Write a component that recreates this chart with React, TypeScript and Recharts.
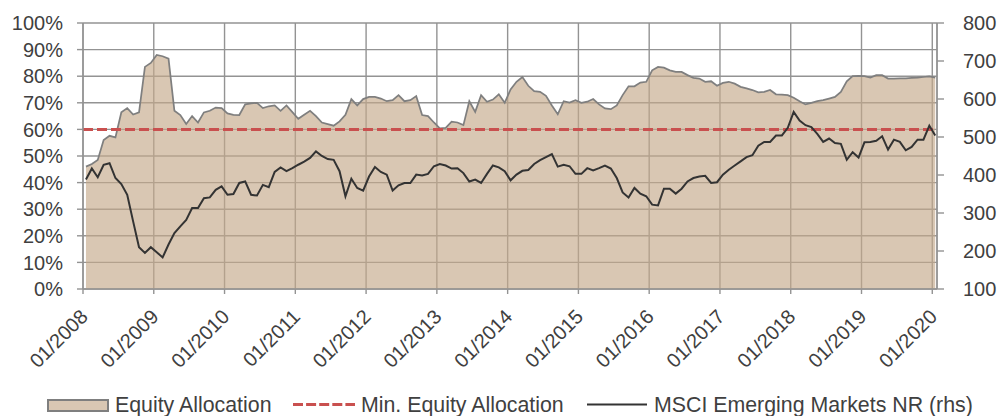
import React from 'react';
import {
  ComposedChart,
  Area,
  Line,
  XAxis,
  YAxis,
  CartesianGrid,
  ReferenceLine,
  Legend,
} from 'recharts';

// ---------- data ----------
const START_YEAR = 2008;
const MONTH_COUNT = 145; // 01/2008 .. 01/2020

const months: string[] = Array.from({ length: MONTH_COUNT }, (_, i) => {
  const y = START_YEAR + Math.floor(i / 12);
  const m = (i % 12) + 1;
  return `${m < 10 ? '0' : ''}${m}/${y}`;
});

const equityAllocation: number[] = [
  46, 47, 48.5, 56, 57.6, 57, 66.4, 68, 65.6, 66.4, 83.5, 85,
  88, 87.5, 86.6, 67, 65.4, 62, 65, 62.6, 66.4, 67, 68.2, 68,
  66, 65.5, 65.4, 69.4, 69.8, 70, 68, 68.7, 69, 67, 69, 66.5,
  64, 65.5, 67, 65, 62.6, 62, 61.4, 63, 65.5, 71.4, 69, 71.4,
  72.2, 72.2, 71.6, 70.6, 71, 72.9, 70.6, 71, 72.5, 65.4, 65, 62.6,
  60.4, 60.6, 62.9, 62.6, 61.6, 70.6, 66.6, 72.9, 70.4, 71.2, 73.2, 70,
  75, 77.9, 79.7, 76.4, 74.4, 74.1, 72.6, 69, 65.7, 70.6, 70.1, 71,
  70, 70.4, 71.4, 69.4, 67.9, 67.6, 69, 72.9, 76.2, 76.2, 77.6, 77.9,
  82.2, 83.5, 83.2, 82.2, 81.6, 81.6, 80.4, 79.4, 79.1, 77.9, 78.1, 76.4,
  77.5, 77.9, 77.2, 76, 75.4, 74.8, 73.9, 74.1, 74.8, 73.2, 73.1, 72.9,
  71.9, 70.6, 69.4, 70, 70.6, 71, 71.6, 72.2, 74.1, 78.1, 80, 80.1,
  80, 79.5, 80.4, 80.4, 79.1, 79.1, 79.2, 79.2, 79.4, 79.5, 79.7, 79.9,
  79.5,
];

const msciEmergingMarkets: number[] = [
  388, 417, 394, 427, 431, 392, 376, 348, 278, 210, 195, 210,
  197, 183, 217, 247, 265, 282, 313, 313, 339, 341, 361, 370,
  348, 350, 379, 383, 348, 346, 374, 368, 408, 420, 410, 418,
  427, 435, 445, 462, 450, 442, 440, 410, 344, 390, 366, 359,
  396, 421, 408, 401, 359, 373, 379, 379, 401, 399, 403, 423,
  429, 425, 417, 418, 405, 383, 388, 379, 403, 425, 420, 410,
  386, 401, 411, 413, 429, 439, 447, 455, 422, 427, 423, 403,
  403, 418, 412, 418, 425, 417, 392, 354, 341, 366, 351, 344,
  322, 320, 364, 364, 351, 364, 383, 392, 396, 398, 379, 381,
  401, 414, 425, 436, 447, 452, 477, 487, 487, 504, 504, 524,
  566, 543, 531, 526, 508, 487, 496, 484, 482, 440, 460, 446,
  486, 487, 490, 502, 467, 493, 487, 465, 474, 493, 493, 530,
  504,
];

const MIN_EQUITY_ALLOCATION = 60;

const xTickLabels: string[] = [
  '01/2008', '01/2009', '01/2010', '01/2011', '01/2012', '01/2013', '01/2014',
  '01/2015', '01/2016', '01/2017', '01/2018', '01/2019', '01/2020',
];
const leftTicks: number[] = [0, 10, 20, 30, 40, 50, 60, 70, 80, 90, 100];
const rightTicks: number[] = [100, 200, 300, 400, 500, 600, 700, 800];

const seriesNames = {
  equity: 'Equity Allocation',
  min: 'Min. Equity Allocation',
  msci: 'MSCI Emerging Markets NR (rhs)',
};

// month index positioned mid-month
const data = months.map((m, i) => ({
  month: m,
  t: i + 0.5,
  equity: equityAllocation[i],
  msci: msciEmergingMarkets[i],
}));

// ---------- style ----------
const FONT = '"Liberation Sans", Arial, Helvetica, sans-serif';
const TEXT = '#404040';
const GRID = '#939393';
const AREA_FILL = '#c4a98a';
const AREA_STROKE = '#7f7f7f';
const RED = '#c9504f';
const DARK = '#333333';
const LEGEND_FS = 21.33;

const XTick = (props: any) => {
  const { x, y, payload } = props;
  const label = xTickLabels[Math.round(payload.value / 12)];
  return (
    <g transform={`translate(${x + 6},${y + 24})`}>
      <text
        textAnchor="end"
        transform="rotate(-45)"
        fontSize={20}
        fill={TEXT}
        fontFamily={FONT}
      >
        {label}
      </text>
    </g>
  );
};

const LegendContent = () => (
  <svg width={1001} height={24} style={{ display: 'block' }}>
    <rect x={48} y={8} width={60} height={11} fill="#d9c7b3" stroke={AREA_STROKE} strokeWidth={2} />
    <text x={115} y={19.5} fontSize={LEGEND_FS} fill={TEXT} fontFamily={FONT}>{seriesNames.equity}</text>
    <line x1={293} x2={355} y1={12.5} y2={12.5} stroke={RED} strokeWidth={3} strokeDasharray="10 3.1" />
    <text x={361} y={19.5} fontSize={LEGEND_FS} fill={TEXT} fontFamily={FONT}>{seriesNames.min}</text>
    <line x1={587} x2={647} y1={12.5} y2={12.5} stroke={DARK} strokeWidth={2} />
    <text x={654} y={19.5} fontSize={LEGEND_FS} fill={TEXT} fontFamily={FONT}>{seriesNames.msci}</text>
  </svg>
);

export default function App() {
  return (
    <div style={{ position: 'absolute', left: 0, top: 0, width: 1001, height: 416, overflow: 'hidden', background: '#fff' }}>
      <ComposedChart
        width={1001}
        height={416}
        data={data}
        margin={{ top: 23, right: 0, bottom: 0, left: 0 }}
      >
        <CartesianGrid yAxisId="left" stroke={GRID} strokeWidth={1.4} />
        <XAxis
          dataKey="t"
          type="number"
          domain={[0, 144.8]}
          ticks={xTickLabels.map((_, i) => i * 12)}
          interval={0}
          height={103}
          tickSize={5}
          tickMargin={0}
          axisLine={{ stroke: GRID, strokeWidth: 1.4 }}
          tickLine={{ stroke: GRID, strokeWidth: 1.4 }}
          tick={<XTick />}
          allowDataOverflow
        />
        <YAxis
          yAxisId="left"
          domain={[0, 100]}
          ticks={leftTicks}
          interval={0}
          width={83}
          tickSize={6}
          tickMargin={14}
          tickFormatter={(v: number) => `${v}%`}
          axisLine={{ stroke: GRID, strokeWidth: 1.4 }}
          tickLine={{ stroke: GRID, strokeWidth: 1.4 }}
          tick={{ fontSize: 20, fill: TEXT, fontFamily: FONT }}
        />
        <YAxis
          yAxisId="right"
          orientation="right"
          domain={[100, 800]}
          ticks={rightTicks}
          interval={0}
          width={64}
          tickSize={7}
          tickMargin={19}
          axisLine={{ stroke: GRID, strokeWidth: 1.4 }}
          tickLine={{ stroke: GRID, strokeWidth: 1.4 }}
          tick={{ fontSize: 20, fill: TEXT, fontFamily: FONT }}
        />
        <Area
          yAxisId="left"
          type="linear"
          dataKey="equity"
          name={seriesNames.equity}
          fill={AREA_FILL}
          fillOpacity={0.65}
          stroke={AREA_STROKE}
          strokeWidth={1.75}
          dot={false}
          activeDot={false}
          isAnimationActive={false}
        />
        <ReferenceLine
          yAxisId="left"
          y={MIN_EQUITY_ALLOCATION}
          stroke={RED}
          strokeWidth={3}
          strokeDasharray="10 4"
        />
        <Line
          yAxisId="right"
          type="linear"
          dataKey="msci"
          name={seriesNames.msci}
          stroke={DARK}
          strokeWidth={2}
          dot={false}
          activeDot={false}
          isAnimationActive={false}
        />
        <Legend
          verticalAlign="bottom"
          align="left"
          content={<LegendContent />}
          wrapperStyle={{ left: 0, bottom: 0, width: 1001, height: 24, margin: 0, padding: 0 }}
        />
      </ComposedChart>
    </div>
  );
}
